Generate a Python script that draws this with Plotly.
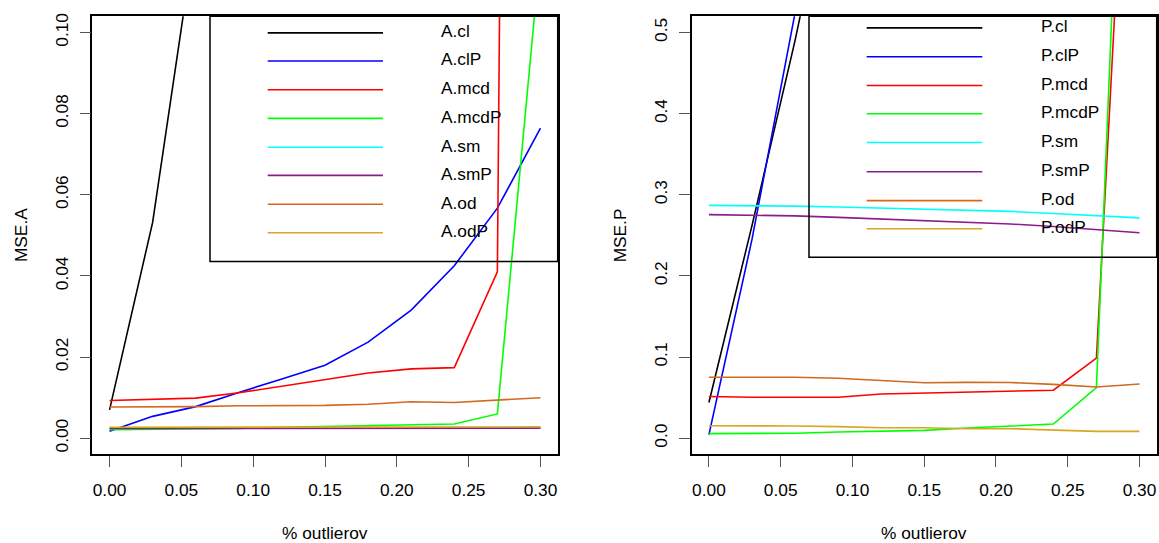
import plotly.graph_objects as go

W, H = 1159, 543

# ---------------- data ----------------
pct_outliers = [0.00, 0.03, 0.06, 0.09, 0.12, 0.15, 0.18, 0.21, 0.24, 0.27, 0.30]

A_names = ["A.cl", "A.clP", "A.mcd", "A.mcdP", "A.sm", "A.smP", "A.od", "A.odP"]
A_cl   = [0.0070, 0.0532, 0.1250, 0.2000, 0.2800, 0.3600, 0.4500, 0.5500, 0.6500, 0.7500, 0.8500]
A_clP  = [0.0017, 0.0054, 0.0078, 0.0113, 0.0146, 0.0180, 0.0237, 0.0316, 0.0425, 0.0567, 0.0764]
A_mcd  = [0.0093, 0.0096, 0.0099, 0.0112, 0.0128, 0.0145, 0.0161, 0.0171, 0.0174, 0.0410, 1.3000]
A_mcdP = [0.0021, 0.0022, 0.0022, 0.0024, 0.0027, 0.0029, 0.0030, 0.0032, 0.0035, 0.0060, 0.1200]
A_sm   = [0.0025, 0.0025, 0.0026, 0.0026, 0.0026, 0.0026, 0.0026, 0.0026, 0.0026, 0.0026, 0.0026]
A_smP  = [0.0024, 0.0024, 0.0025, 0.0025, 0.0025, 0.0025, 0.0025, 0.0025, 0.0025, 0.0025, 0.0025]
A_od   = [0.0077, 0.0077, 0.0078, 0.0080, 0.0080, 0.0081, 0.0084, 0.0090, 0.0088, 0.0094, 0.0100]
A_odP  = [0.0027, 0.0027, 0.0028, 0.0028, 0.0028, 0.0028, 0.0028, 0.0028, 0.0028, 0.0028, 0.0028]

P_names = ["P.cl", "P.clP", "P.mcd", "P.mcdP", "P.sm", "P.smP", "P.od", "P.odP"]
P_cl   = [0.0440, 0.2620, 0.4900, 0.7500, 1.0000, 1.2500, 1.5000, 1.7500, 2.0000, 2.2500, 2.5000]
P_clP  = [0.0045, 0.2450, 0.5240, 0.8000, 1.0500, 1.3000, 1.5500, 1.8000, 2.0500, 2.3000, 2.5500]
P_mcd  = [0.0515, 0.0505, 0.0505, 0.0505, 0.0545, 0.0557, 0.0577, 0.0582, 0.0592, 0.0988, 1.1000]
P_mcdP = [0.0057, 0.0060, 0.0062, 0.0077, 0.0090, 0.0097, 0.0126, 0.0146, 0.0175, 0.0624, 1.3500]
P_sm   = [0.2869, 0.2868, 0.2860, 0.2850, 0.2838, 0.2828, 0.2812, 0.2795, 0.2770, 0.2740, 0.2715]
P_smP  = [0.2755, 0.2748, 0.2740, 0.2722, 0.2702, 0.2683, 0.2662, 0.2640, 0.2610, 0.2573, 0.2533]
P_od   = [0.0752, 0.0752, 0.0752, 0.0740, 0.0712, 0.0684, 0.0688, 0.0687, 0.0664, 0.0631, 0.0668]
P_odP  = [0.0154, 0.0154, 0.0152, 0.0143, 0.0130, 0.0130, 0.0118, 0.0118, 0.0106, 0.0085, 0.0085]

series_colors = ["#000000", "#0000FF", "#FF0000", "#00FF00", "#00FFFF", "#8B1C8B", "#D2691E", "#DAA520"]

x_tickvals = [0.00, 0.05, 0.10, 0.15, 0.20, 0.25, 0.30]
x_ticktext = ["0.00", "0.05", "0.10", "0.15", "0.20", "0.25", "0.30"]
yA_tickvals = [0.00, 0.02, 0.04, 0.06, 0.08, 0.10]
yA_ticktext = ["0.00", "0.02", "0.04", "0.06", "0.08", "0.10"]
yP_tickvals = [0.0, 0.1, 0.2, 0.3, 0.4, 0.5]
yP_ticktext = ["0.0", "0.1", "0.2", "0.3", "0.4", "0.5"]

x_title = "% outlierov"
yA_title = "MSE.A"
yP_title = "MSE.P"

A_series = [A_cl, A_clP, A_mcd, A_mcdP, A_sm, A_smP, A_od, A_odP]
P_series = [P_cl, P_clP, P_mcd, P_mcdP, P_sm, P_smP, P_od, P_odP]

# ---------------- layout helpers ----------------
def px(x):
    return x / W

def py(y):
    return 1 - y / H

FONT = "Liberation Sans, Arial, sans-serif"
FS = 17.3

fig = go.Figure()

for name, vals, col in zip(A_names, A_series, series_colors):
    fig.add_trace(go.Scatter(x=pct_outliers, y=vals, mode="lines", name=name,
                             line=dict(color=col, width=1.6), xaxis="x", yaxis="y",
                             showlegend=False))
for name, vals, col in zip(P_names, P_series, series_colors):
    fig.add_trace(go.Scatter(x=pct_outliers, y=vals, mode="lines", name=name,
                             line=dict(color=col, width=1.6), xaxis="x2", yaxis="y2",
                             showlegend=False))

box_top, box_bot = 13.3, 454.0
L_left, L_right = 92.3, 557.7
R_left, R_right = 691.7, 1156.7

common_ax = dict(showgrid=False, zeroline=False, showline=True, mirror=True,
                 linecolor="black", linewidth=1.5, ticks="outside", ticklen=11,
                 tickwidth=1, tickcolor="#555555",
                 tickfont=dict(family=FONT, size=FS, color="black"))

fig.update_layout(
    width=W, height=H,
    margin=dict(l=0, r=0, t=0, b=0),
    paper_bgcolor="white", plot_bgcolor="white",
    showlegend=False,
    xaxis=dict(domain=[px(L_left), px(L_right)], range=[-0.012, 0.312],
               tickvals=x_tickvals, ticktext=x_ticktext, anchor="y",
               ticklabelstandoff=8, **common_ax),
    yaxis=dict(domain=[py(box_bot), py(box_top)], range=[-0.004, 0.104],
               tickvals=yA_tickvals, ticktext=yA_ticktext, tickangle=-90,
               anchor="x", ticklabelstandoff=5, **common_ax),
    xaxis2=dict(domain=[px(R_left), px(R_right)], range=[-0.012, 0.312],
                tickvals=x_tickvals, ticktext=x_ticktext, anchor="y2",
                ticklabelstandoff=8, **common_ax),
    yaxis2=dict(domain=[py(box_bot), py(box_top)], range=[-0.02, 0.52],
                tickvals=yP_tickvals, ticktext=yP_ticktext, tickangle=-90,
                anchor="x2", ticklabelstandoff=5, **common_ax),
)

annotations = []
shapes = []

# axis titles
for xc, txt in [((L_left + L_right) / 2, x_title), ((R_left + R_right) / 2, x_title)]:
    annotations.append(dict(x=px(xc), y=py(533), xref="paper", yref="paper", text=txt,
                            showarrow=False, xanchor="center", yanchor="middle",
                            font=dict(family=FONT, size=FS, color="black")))
for xc, txt in [(21.7, yA_title), (620.0, yP_title)]:
    annotations.append(dict(x=px(xc), y=py((box_top + box_bot) / 2), xref="paper", yref="paper",
                            text=txt, textangle=-90, showarrow=False,
                            xanchor="center", yanchor="middle",
                            font=dict(family=FONT, size=FS, color="black")))

# legends (R style boxes)
legends = [
    dict(names=A_names, box=(210.0, 13.3, 557.7, 260.0), line_x=(267.7, 383.0), text_x=439.3,
         rows=[30.0, 58.3, 87.3, 116.0, 145.0, 173.3, 202.3, 231.0]),
    dict(names=P_names, box=(809.0, 13.3, 1156.7, 255.7), line_x=(866.7, 982.3), text_x=1039.3,
         rows=[25.0, 54.0, 83.0, 111.3, 140.3, 169.7, 198.7, 227.0]),
]
for lg in legends:
    x0, y0, x1, y1 = lg["box"]
    shapes.append(dict(type="rect", xref="paper", yref="paper", x0=px(x0), x1=px(x1),
                       y0=py(y1), y1=py(y0), line=dict(color="black", width=1.5),
                       fillcolor="rgba(0,0,0,0)", layer="above"))
    for name, col, ry in zip(lg["names"], series_colors, lg["rows"]):
        shapes.append(dict(type="line", xref="paper", yref="paper",
                           x0=px(lg["line_x"][0]), x1=px(lg["line_x"][1]),
                           y0=py(ry), y1=py(ry), line=dict(color=col, width=1.6),
                           layer="above"))
        annotations.append(dict(x=px(lg["text_x"]), y=py(ry - 1.5), xref="paper", yref="paper",
                                text=name, showarrow=False, xanchor="left", yanchor="middle",
                                font=dict(family=FONT, size=FS, color="black")))

fig.update_layout(annotations=annotations, shapes=shapes)

fig.write_html("out.html")
